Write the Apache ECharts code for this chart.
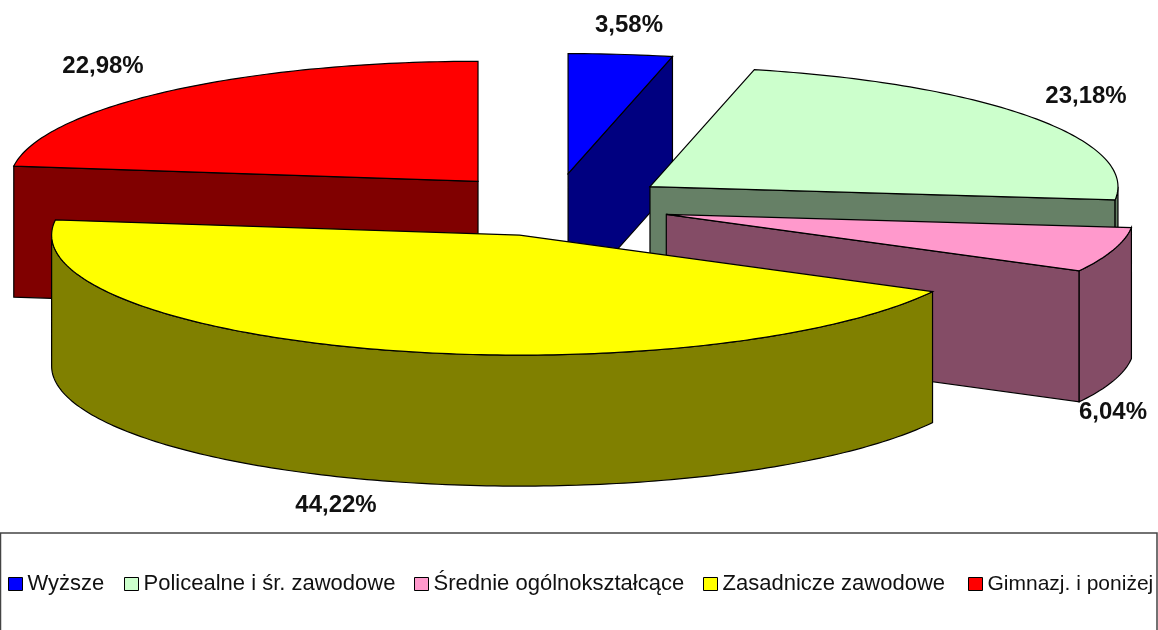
<!DOCTYPE html>
<html><head><meta charset="utf-8">
<style>html,body{margin:0;padding:0;background:#fff}#c{width:1158px;height:630px}</style>
<script src="https://cdn.jsdelivr.net/npm/echarts@6/dist/echarts.min.js"></script>
</head><body><div id="c"></div>
<script>
// Data
const categories = ['Wyższe','Policealne i śr. zawodowe','Średnie ogólnokształcące','Zasadnicze zawodowe','Gimnazj. i poniżej'];
const shares = [3.58,23.18,6.04,44.22,22.98];
// Styles
const topColors = ['#0000FF','#CCFFCC','#FF99CC','#FFFF00','#FF0000'];
const sideColors = ['#000080','#668066','#844C66','#808000','#800000'];
const drawOrder = [0,4,1,2,3];
const labelAnchors = [[629,25],[1086,96],[1113,412],[336,505],[103,66]];
const legendLefts = [8,124,414,703,968];
const legendFontSizes = [22,22,22,22,21];
// Layout of the tilted pie
const CX=555, CY=205, RX=468, RY=120;
const EX=116.5/RX, EY=31.6/RY, DEPTH=131/RY;

const total = shares.reduce((a,b)=>a+b,0);
const starts = [];
shares.reduce((acc,v,i)=>{starts[i]=acc;return acc+v;},0);
const rad = d=>d*Math.PI/180;

function renderSlice(i){
  return function(params,api){
    const share = api.value(2), start = api.value(3);
    const a0 = start/total*360, a1 = (start+share)/total*360, mid=(a0+a1)/2;
    const ox = EX*Math.sin(rad(mid)), oy = EY*Math.cos(rad(mid));
    const pt = (a,drop)=>api.coord([ox+Math.sin(rad(a)), oy+Math.cos(rad(a))-(drop||0)]);
    const apex = d=>api.coord([ox,oy-(d||0)]);
    const arc = (from,to,d)=>{const n=Math.max(2,Math.ceil(Math.abs(to-from)));const r=[];
      for(let k=0;k<=n;k++) r.push(pt(from+(to-from)*k/n,d));return r;};
    const st = (fill)=>({fill:fill,stroke:'#000',lineWidth:1.2});
    const ch = [];
    const poly = (pts,fill)=>ch.push({type:'polygon',shape:{points:pts},style:st(fill)});
    if(a0>180&&a0<360) poly([apex(),pt(a0),pt(a0,DEPTH),apex(DEPTH)],sideColors[i]);
    if(a1>0&&a1<180)  poly([apex(),pt(a1),pt(a1,DEPTH),apex(DEPTH)],sideColors[i]);
    const w0=Math.max(a0,90), w1=Math.min(a1,270);
    if(w1>w0) poly(arc(w0,w1,0).concat(arc(w1,w0,DEPTH)),sideColors[i]);
    poly([apex()].concat(arc(a0,a1,0)),topColors[i]);
    ch.push({type:'text',style:{x:labelAnchors[i][0],y:labelAnchors[i][1],
      text:share.toFixed(2).replace('.',',')+'%',
      font:'bold 24px "Liberation Sans", Arial, sans-serif',fill:'#111',align:'center',verticalAlign:'middle'}});
    return {type:'group',children:ch};
  };
}

const series = drawOrder.map(i=>({
  type:'custom',name:categories[i],coordinateSystem:'cartesian2d',clip:false,silent:true,
  itemStyle:{color:topColors[i]},
  encode:{x:0,y:1},
  data:[[0,0,shares[i],starts[i]]],
  renderItem:renderSlice(i),animation:false
}));

const legends = categories.map((name,i)=>({
  left:legendLefts[i],top:572,orient:'horizontal',icon:'rect',itemWidth:14,itemHeight:13,padding:0,
  selectedMode:false,
  textStyle:{fontFamily:'"Liberation Sans", Arial, sans-serif',fontSize:legendFontSizes[i],lineHeight:24,color:'#111'},
  itemStyle:{borderColor:'#000',borderWidth:1},
  data:[name]
}));

const chart = echarts.init(document.getElementById('c'),null,{renderer:'canvas'});
chart.setOption({
  animation:false,backgroundColor:'#fff',
  grid:{left:CX-RX,top:CY-RY,width:2*RX,height:2*RY,containLabel:false},
  xAxis:{type:'value',min:-1,max:1,show:false},
  yAxis:{type:'value',min:-1,max:1,show:false},
  legend:legends,
  graphic:[{type:'rect',shape:{x:0.5,y:533,width:1156.5,height:110},style:{fill:'none',stroke:'#444',lineWidth:1.5},silent:true}],
  series:series
});
</script></body></html>
